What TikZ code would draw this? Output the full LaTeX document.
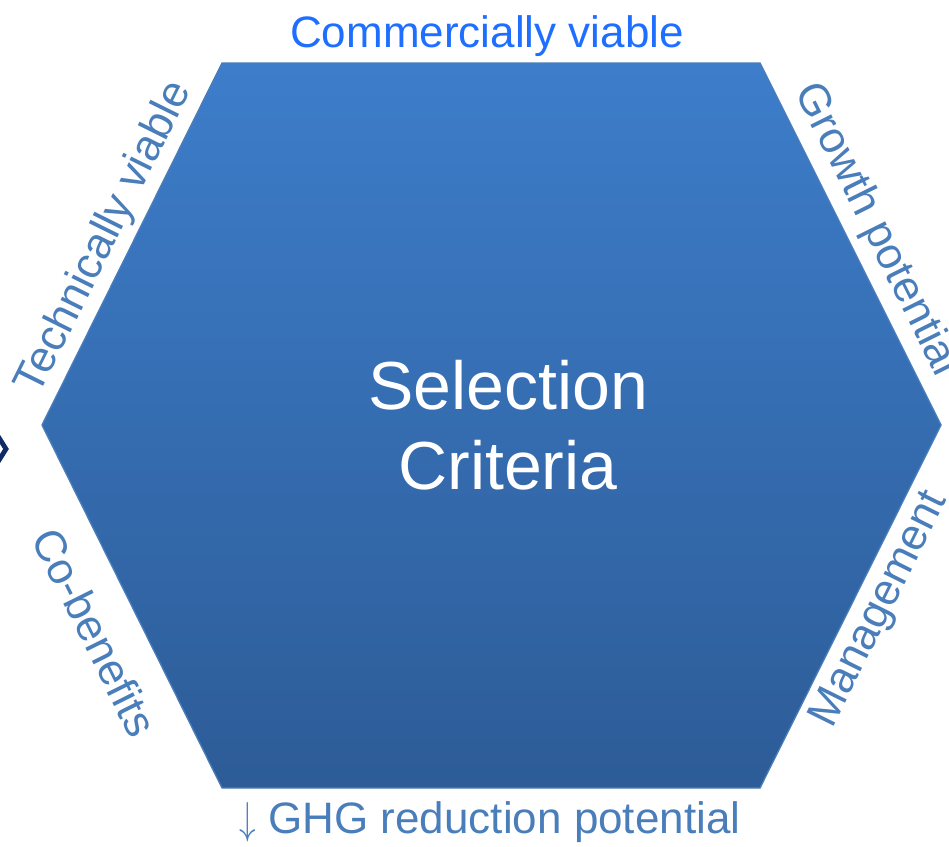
\documentclass[tikz,border=0pt]{standalone}
\usepackage{fontspec}
\setmainfont{Liberation Sans}
\usepackage{tikz}
\usetikzlibrary{calc,positioning}
\definecolor{hextop}{HTML}{3D7DCA}
\definecolor{hexbot}{HTML}{2D5C97}
\definecolor{hexline}{HTML}{4A7EBB}
\definecolor{labblue}{HTML}{4A7EBB}
\definecolor{brightblue}{HTML}{1E6FFF}
\definecolor{navy}{HTML}{0F2A66}
\tikzset{
	sidelabel/.style={text=labblue,inner sep=0pt,font=\fontsize{33}{40}\selectfont},
	centerlabel/.style={text=white,inner sep=0pt,align=center,font=\fontsize{51}{60}\selectfont}
}

\begin{document}
\begin{tikzpicture}[x=0.75pt,y=-0.75pt]
		\useasboundingbox (0,0) rectangle (949,846);
		% hexagon corners
		\coordinate (tl) at (222,63);
		\coordinate (tr) at (760,63);
		\coordinate (r) at (941,425);
		\coordinate (br) at (760,788);
		\coordinate (bl) at (222,788);
		\coordinate (l) at (42,425);
		\shade [top color=hextop,bottom color=hexbot] (tl) -- (tr) -- (r) -- (br) -- (bl) -- (l) -- cycle;
		\draw [hexline,line width=1pt] (tl) -- (tr) -- (r) -- (br) -- (bl) -- (l) -- cycle;
		% chevron cut by the left border
		\draw [navy,line width=3.6pt,line join=miter] (-4,433) -- (6,449) -- (-4,465);
		% texts
		\node [centerlabel] (sel) at (508,425) {Selection\\Criteria};
		\node [sidelabel,text=brightblue] (comm) at (487,36) {Commercially viable};
		\node [sidelabel] (ghg) at (490,822) {\scalebox{1}[1.35]{$\downarrow$} GHG reduction potential};
		\node [sidelabel,rotate=63.56] (tech) at (105,238) {Technically viable};
		\node [sidelabel,rotate=-63.56] (grow) at (876,230) {Growth potential};
		\node [sidelabel,rotate=63.56] (mgmt) at (880,610) {Management};
		\node [sidelabel,rotate=-63.56] (cob) at (95,632) {Co-benefits};
\end{tikzpicture}
\end{document}
